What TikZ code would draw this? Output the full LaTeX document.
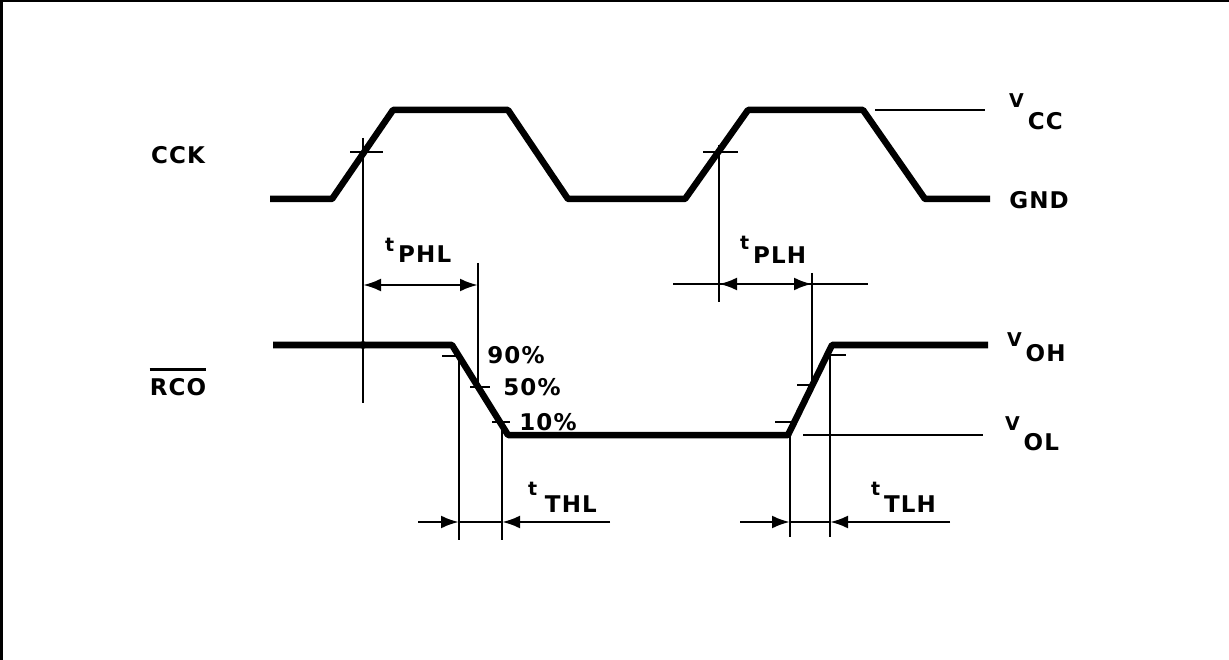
\documentclass[tikz,border=0pt]{standalone}
\usepackage{fontspec}
\setmainfont{DejaVu Sans}
\usetikzlibrary{arrows.meta}

\tikzset{
  wave/.style={line width=6.5pt, line join=round},
  guide/.style={line width=2.8pt},
  dimline/.style={guide, {Latex[length=18pt,width=13pt]}-{Latex[length=18pt,width=13pt]}},
  pointer/.style={guide, -{Latex[length=18pt,width=13pt]}},
  lbl/.style={font=\bfseries\fontsize{23}{23}\selectfont\addfontfeature{LetterSpace=5}, inner sep=0pt}
}
% small letter, then a lowered subscript
\newcommand\sublbl[3]{{\fontsize{19}{19}\selectfont #1}\,\raisebox{-#3pt}{#2}}

\begin{document}
\begin{tikzpicture}[x=1pt,y=-1pt]
    \useasboundingbox (0,0) rectangle (1229,660);
    % frame
    \draw [line width=3pt] (1.5,660) -- (1.5,1) -- (1229,1);

    % clock
    \coordinate (c0) at (270,199);
    \coordinate (c1) at (332,199);
    \coordinate (c2) at (393,110);
    \coordinate (c3) at (508,110);
    \coordinate (c4) at (568,199);
    \coordinate (c5) at (685,199);
    \coordinate (c6) at (748,110);
    \coordinate (c7) at (863,110);
    \coordinate (c8) at (925,199);
    \coordinate (c9) at (990,199);
    \draw [wave] (c0) -- (c1) -- (c2) -- (c3) -- (c4) -- (c5) -- (c6) -- (c7) -- (c8) -- (c9);
    \draw [guide] (875,110) -- (985,110);

    % ripple carry out
    \coordinate (r0) at (273,345);
    \coordinate (r1) at (452,345);
    \coordinate (r2) at (508,435);
    \coordinate (r3) at (788,435);
    \coordinate (r4) at (832,345);
    \coordinate (r5) at (988,345);
    \draw [wave] (r0) -- (r1) -- (r2) -- (r3) -- (r4) -- (r5);
    \draw [guide] (803,435) -- (983,435);

    % 50% marks on the clock edges
    \coordinate (m1t) at (363,138);
    \coordinate (m1b) at (363,403);
    \draw [guide] (m1t) -- (m1b);
    \draw [guide] (350,152) -- (383,152);
    \fill (363,345) circle (4);
    \coordinate (m2t) at (719,145);
    \coordinate (m2b) at (719,302);
    \draw [guide] (m2t) -- (m2b);
    \draw [guide] (703,152) -- (738,152);

    % propagation delays
    \coordinate (phlt) at (478,263);
    \coordinate (phlb) at (478,390);
    \draw [guide] (phlt) -- (phlb);
    \draw [dimline] (363,285) -- (478,285);
    \coordinate (plht) at (812,273);
    \coordinate (plhb) at (812,390);
    \draw [guide] (plht) -- (plhb);
    \draw [guide] (673,284) -- (868,284);
    \draw [dimline] (719,284) -- (812,284);

    % transition times
    \coordinate (f90) at (459,355);
    \coordinate (f10) at (502,430);
    \draw [guide] (f90) -- (459,540);
    \draw [guide] (f10) -- (502,540);
    \draw [guide] (442,356) -- (459,356);
    \draw [guide] (470,387) -- (490,387);
    \draw [guide] (492,422) -- (510,422);
    \draw [pointer] (418,522) -- (459,522);
    \draw [pointer] (610,522) -- (502,522);
    \draw [guide] (459,522) -- (502,522);

    \coordinate (s10) at (790,433);
    \coordinate (s90) at (830,355);
    \draw [guide] (s10) -- (790,537);
    \draw [guide] (s90) -- (830,537);
    \draw [guide] (775,422) -- (796,422);
    \draw [guide] (797,385) -- (815,385);
    \draw [guide] (826,355) -- (846,355);
    \draw [pointer] (740,522) -- (790,522);
    \draw [pointer] (950,522) -- (830,522);
    \draw [guide] (790,522) -- (830,522);

    % labels
    \node [lbl] (clk) at (178,155) {CCK};
    \node [lbl] (rco) at (178,387) {RCO};
    \draw [guide] ([yshift=9pt]rco.north west) -- ([yshift=9pt]rco.north east);
    \node [lbl] (gnd) at (1039,200) {GND};
    \node [lbl, anchor=base west] (vcc) at (1009,108) {\sublbl{V}{CC}{22}};
    \node [lbl, anchor=base west] (voh) at (1007,347) {\sublbl{V}{OH}{15}};
    \node [lbl, anchor=base west] (vol) at (1005,430) {\sublbl{V}{OL}{20}};
    \node [lbl, anchor=base west] (tphl) at (385,252) {\sublbl{t}{PHL}{11}};
    \node [lbl, anchor=base west] (tplh) at (740,250) {\sublbl{t}{PLH}{14}};
    \node [lbl, anchor=base west] (tthl) at (528,495) {\sublbl{t}{\,THL}{17}};
    \node [lbl, anchor=base west] (ttlh) at (871,495) {\sublbl{t}{TLH}{17}};
    \node [lbl] (p90) at (516,355) {90\%};
    \node [lbl] (p50) at (532,387) {50\%};
    \node [lbl] (p10) at (548,422) {10\%};
\end{tikzpicture}
\end{document}
